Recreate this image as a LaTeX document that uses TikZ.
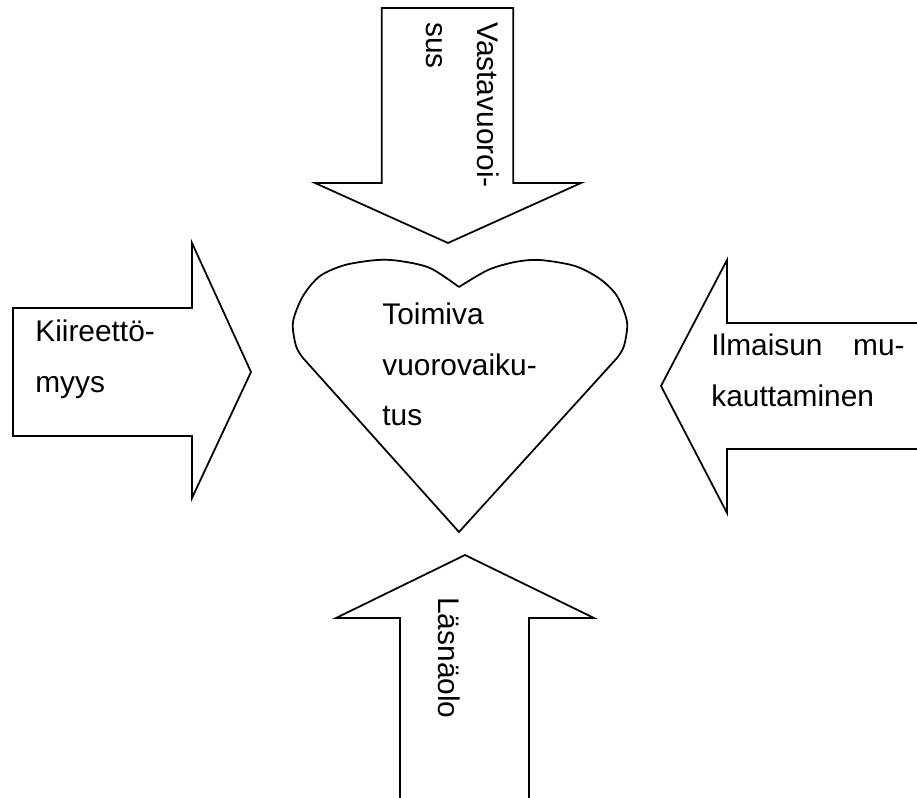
\documentclass[tikz,border=0pt]{standalone}
\usepackage{fontspec}
\setmainfont{Liberation Sans}

\begin{document}
\begin{tikzpicture}[x=0.02cm, y=-0.02cm,
  shapeline/.style={black, line width=1pt, line join=miter},
  labeltext/.style={black, inner sep=0pt, align=left, font=\fontsize{17}{28.5}\selectfont}]
\useasboundingbox (0,0) rectangle (917,798);
\draw[shapeline] (381.7,8) -- (513.3,8) -- (513.3,183) -- (581,183) -- (448,243) -- (315,183) -- (381.7,183) -- cycle;
\draw[shapeline] (13,308) -- (192,308) -- (192,243) -- (251,372) -- (192,498) -- (192,436) -- (13,436) -- cycle;
\draw[shapeline] (917,323) -- (727,323) -- (727,260) -- (661,386) -- (727,513) -- (727,449) -- (917,449);
\draw[shapeline] (400,798) -- (400,618) -- (336,618) -- (465,555) -- (594,618) -- (529,618) -- (529,798);
\draw[shapeline] plot[smooth] coordinates {(459,287) (430,268) (400,261) (377,260) (345,265) (320,276) (303,296) (293,322) (296,346) (303,358)}
  -- (459,532) -- (617,358)
  -- plot[smooth] coordinates {(617,358) (624,346) (627,322) (617,296) (600,279) (575,266) (540,260) (515,262) (488,270) (459,287)};
\node[labeltext, rotate=-90, anchor=north west] (vasta) at (499,22) {Vastavuoroi-\\sus};
\node[labeltext, anchor=north west] (kiire) at (35,320) {Kiireettö-\\myys};
\node[labeltext, anchor=north west] (toimiva) at (382,303) {Toimiva\\vuorovaiku-\\tus};
\node[labeltext, anchor=north west, text width=110pt] (ilmaisu) at (711,334) {Ilmaisun\hfill mu-\\kauttaminen};
\node[labeltext, rotate=-90, anchor=base west] (lasna) at (438,597) {Läsnäolo};
\end{tikzpicture}
\end{document}
